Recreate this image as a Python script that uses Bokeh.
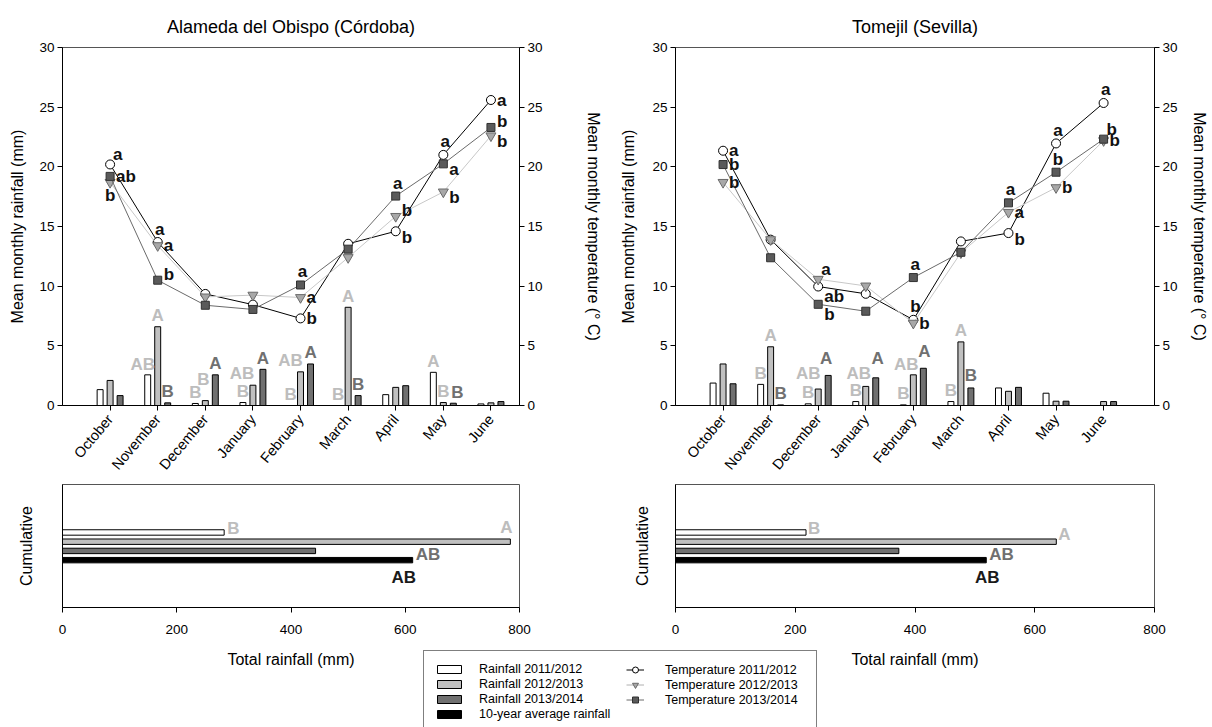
from bokeh.plotting import figure
from bokeh.models import (Range1d, LinearAxis, FixedTicker, ColumnDataSource, Legend, LegendItem,
                          GridBox, Spacer, Column, Row)
from bokeh.core.properties import value
from bokeh.embed import file_html
from bokeh.resources import INLINE

FONT = "Liberation Sans"

# ---------------- data ----------------
months = ["October", "November", "December", "January", "February", "March", "April", "May", "June"]
seasons = ["2011/2012", "2012/2013", "2013/2014"]

# Alameda del Obispo (Córdoba)
cor_rain_1112 = [1.33, 2.57, 0.17, 0.25, 0.0, 0.0, 0.91, 2.78, 0.13]
cor_rain_1213 = [2.10, 6.60, 0.41, 1.70, 2.82, 8.23, 1.52, 0.25, 0.22]
cor_rain_1314 = [0.83, 0.22, 2.57, 3.03, 3.48, 0.83, 1.66, 0.19, 0.33]
cor_temp_1112 = [20.2, 13.7, 9.35, 8.45, 7.3, 13.55, 14.6, 21.0, 25.6]
cor_temp_1213 = [18.7, 13.4, 9.1, 9.25, 9.05, 12.4, 15.85, 17.9, 22.6]
cor_temp_1314 = [19.2, 10.5, 8.4, 8.05, 10.1, 13.1, 17.55, 20.25, 23.3]
cor_total = [283, 784, 443, 613]

# Tomejil (Sevilla)
sev_rain_1112 = [1.88, 1.77, 0.14, 0.33, 0.05, 0.33, 1.47, 1.03, 0.0]
sev_rain_1213 = [3.48, 4.92, 1.38, 1.60, 2.57, 5.33, 1.19, 0.36, 0.33]
sev_rain_1314 = [1.82, 0.05, 2.52, 2.32, 3.12, 1.47, 1.52, 0.36, 0.33]
sev_temp_1112 = [21.35, 13.9, 9.97, 9.36, 7.18, 13.75, 14.45, 21.96, 25.35]
sev_temp_1213 = [18.7, 13.9, 10.58, 10.02, 6.9, 12.8, 16.19, 18.26, 22.2]
sev_temp_1314 = [20.19, 12.38, 8.48, 7.9, 10.72, 12.84, 16.98, 19.55, 22.32]
sev_total = [218, 636, 373, 519]

# significance letters
cor_rain_let_1112 = ["", "AB", "B", "B", "B", "B", "", "A", ""]
cor_rain_let_1213 = ["", "A", "B", "AB", "AB", "A", "", "B", ""]
cor_rain_let_1314 = ["", "B", "A", "A", "A", "B", "", "B", ""]
sev_rain_let_1112 = ["", "B", "B", "B", "B", "B", "", "", ""]
sev_rain_let_1213 = ["", "A", "AB", "AB", "AB", "A", "", "", ""]
sev_rain_let_1314 = ["", "B", "A", "A", "A", "B", "", "", ""]

cor_temp_let_1112 = ["a", "a", "", "", "b", "", "b", "a", "a"]
cor_temp_let_1213 = ["b", "a", "", "", "a", "", "b", "b", "b"]
cor_temp_let_1314 = ["ab", "b", "", "", "a", "", "a", "a", "b"]
sev_temp_let_1112 = ["a", "", "ab", "", "b", "", "b", "a", "a"]
sev_temp_let_1213 = ["b", "", "a", "", "b", "", "a", "b", "b"]
sev_temp_let_1314 = ["b", "", "b", "", "a", "", "a", "b", "b"]

cor_total_let = ["B", "A", "AB", "AB"]
sev_total_let = ["B", "A", "AB", "AB"]

rain_labels = ["Rainfall " + s for s in seasons] + ["10-year average rainfall"]
temp_labels = ["Temperature " + s for s in seasons]

# ---------------- layout / style (not data) ----------------
cor_temp_pos_1112 = ["ar", "a", "", "", "r", "", "rd", "a", "r"]
cor_temp_pos_1213 = ["b", "r", "", "", "r", "", "ru", "rd", "rd"]
cor_temp_pos_1314 = ["r", "ru", "", "", "a", "", "a", "rd", "ru"]
sev_temp_pos_1112 = ["r", "", "br", "", "a", "", "rd", "a", "a"]
sev_temp_pos_1213 = ["r", "", "ar", "", "r", "", "r", "r", "r"]
sev_temp_pos_1314 = ["r", "", "br", "", "a", "", "a", "a", "ar"]
POS = {"a": ("center", 2, -13), "b": ("center", 0, 13), "r": ("left", 6, 0),
       "ru": ("left", 6, -6), "rd": ("left", 6, 6), "ar": ("left", 3, -10), "br": ("left", 6, 10)}

cor_rain_nudge = {(0, 1): (-5, -10), (1, 2): (-2, -21), (1, 3): (-11, -12), (1, 4): (-10, -11), (2, 7): (4, -11)}
sev_rain_nudge = {(1, 2): (-10, -16), (1, 3): (-7, -13), (1, 4): (-7, -10), (2, 2): (-2, -17),
                  (2, 3): (2, -19), (2, 4): (1, -17), (2, 5): (0, -12)}

# bottom labels: (anchor bar, align, dx, dy)
cor_total_lab_pos = [(0, "left", 3, -4), (1, "center", -4, -14), (3, "left", 3, -6), (3, "center", -9, 17)]
sev_total_lab_pos = [(0, "left", 2, -4), (1, "left", 2, -7), (3, "left", 3, -6), (3, "center", 1, 17)]

BAR_FILL = ["#ffffff", "#c0c0c0", "#707070"]
TOTAL_FILL = ["#ffffff", "#c0c0c0", "#707070", "#000000"]
LET_COL = ["#bdbdbd", "#bdbdbd", "#707070"]
TOTAL_LET_COL = ["#bdbdbd", "#bdbdbd", "#707070", "#1a1a1a"]
TLINE = ["#000000", "#c8c8c8", "#6a6a6a"]
TMARK = [("circle", "#ffffff", "#000000", 9), ("inverted_triangle", "#a8a8a8", "#6a6a6a", 10),
         ("square", "#5a5a5a", "#303030", 8)]
BAR_OFF = [-0.21, 0.0, 0.21]
BAR_W = 0.125


def style_axis(ax, tick_font="13.5px"):
    ax.axis_line_color = "black"
    ax.major_tick_line_color = "black"
    ax.minor_tick_line_color = None
    ax.major_tick_in = 0
    ax.major_tick_out = 5
    ax.major_label_text_font = FONT
    ax.major_label_text_font_size = tick_font
    ax.major_label_text_color = "black"
    ax.axis_label_text_font = FONT
    ax.axis_label_text_font_size = "16px"
    ax.axis_label_text_font_style = "normal"
    ax.axis_label_text_color = "black"


def make_top(title, rains, temps, rain_lets, rain_nudge, temp_lets, temp_pos, x_end,
             width, mbl, mbr, lstand, rstand):
    p = figure(width=width, height=480, x_range=Range1d(-1.0, x_end), y_range=Range1d(0, 30),
               output_backend="svg", toolbar_location=None, title=title,
               min_border_left=mbl, min_border_right=mbr, min_border_top=47, min_border_bottom=71)
    p.extra_y_ranges = {"temp": Range1d(0, 30)}
    p.grid.visible = False
    p.outline_line_color = "#555555"
    p.title.align = "center"
    p.title.text_font = FONT
    p.title.text_font_size = "18px"
    p.title.text_font_style = "normal"
    p.title.text_color = "black"
    p.title.standoff = 22

    xa = p.xaxis[0]
    style_axis(xa)
    xa.ticker = FixedTicker(ticks=list(range(len(months))))
    xa.major_label_overrides = {i: m for i, m in enumerate(months)}
    xa.major_label_orientation = 0.87
    xa.major_label_text_font_size = "14.5px"
    xa.major_label_standoff = 6

    ya = p.yaxis[0]
    style_axis(ya)
    ya.ticker = FixedTicker(ticks=[0, 5, 10, 15, 20, 25, 30])
    ya.axis_label = "Mean monthly rainfall (mm)"
    ya.major_label_standoff = 3
    ya.axis_label_standoff = lstand

    ra = LinearAxis(y_range_name="temp", ticker=FixedTicker(ticks=[0, 5, 10, 15, 20, 25, 30]),
                    axis_label="Mean monthly temperature (° C)")
    style_axis(ra)
    ra.major_label_standoff = 3
    ra.axis_label_standoff = rstand
    p.add_layout(ra, "right")

    idx = list(range(len(months)))
    for s, vals in enumerate(rains):
        src = ColumnDataSource(dict(x=[i + BAR_OFF[s] for i in idx], top=vals))
        p.vbar(x="x", top="top", bottom=0, width=BAR_W, source=src,
               fill_color=BAR_FILL[s], line_color="black", line_width=1)
    lx, ly, lt, lxo, lyo, lc = [], [], [], [], [], []
    for s, lets in enumerate(rain_lets):
        for i, t in enumerate(lets):
            if not t:
                continue
            dx, dy = rain_nudge.get((s, i), (0, -11))
            lx.append(i + BAR_OFF[s]); ly.append(rains[s][i]); lt.append(t)
            lxo.append(dx); lyo.append(dy); lc.append(LET_COL[s])
    p.text(x="x", y="y", text="t", x_offset="xo", y_offset="yo", text_color="c",
           source=ColumnDataSource(dict(x=lx, y=ly, t=lt, xo=lxo, yo=lyo, c=lc)),
           text_align="center", text_baseline="middle", text_font=value(FONT),
           text_font_size="17px", text_font_style="bold")

    for s, vals in enumerate(temps):
        p.line(idx, vals, y_range_name="temp", line_color=TLINE[s], line_width=1)
        mk, fc, lc_, sz = TMARK[s]
        p.scatter(idx, vals, y_range_name="temp", marker=mk, size=sz,
                  fill_color=fc, line_color=lc_, line_width=1)
    groups = {}
    for s, lets in enumerate(temp_lets):
        for i, t in enumerate(lets):
            if not t:
                continue
            al, dx, dy = POS[temp_pos[s][i]]
            g = groups.setdefault(al, dict(x=[], y=[], t=[], xo=[], yo=[]))
            g["x"].append(i); g["y"].append(temps[s][i]); g["t"].append(t)
            g["xo"].append(dx); g["yo"].append(dy)
    for al, g in groups.items():
        p.text(x="x", y="y", text="t", x_offset="xo", y_offset="yo", y_range_name="temp",
               source=ColumnDataSource(g), text_align=al, text_baseline="middle",
               text_font=value(FONT), text_font_size="17px", text_font_style="bold",
               text_color="#111111")
    return p


def make_bottom(totals, lets, lab_pos, width, mbl, mbr, ystand):
    p = figure(width=width, height=247, x_range=Range1d(0, 800), y_range=Range1d(0, 1),
               output_backend="svg", toolbar_location=None,
               min_border_left=mbl, min_border_right=mbr, min_border_top=4, min_border_bottom=120)
    p.grid.visible = False
    p.outline_line_color = "#555555"
    bar_y = [0.61 - 0.075 * i for i in range(len(totals))]
    p.hbar(y="y", right="r", left=0, height=0.044,
           source=ColumnDataSource(dict(y=bar_y, r=totals, c=TOTAL_FILL)),
           fill_color="c", line_color="black", line_width=1)
    groups = {}
    for k, t in enumerate(lets):
        a, al, dx, dy = lab_pos[k]
        g = groups.setdefault(al, dict(x=[], y=[], t=[], xo=[], yo=[], c=[]))
        g["x"].append(totals[a]); g["y"].append(bar_y[a]); g["t"].append(t)
        g["xo"].append(dx); g["yo"].append(dy); g["c"].append(TOTAL_LET_COL[k])
    for al, g in groups.items():
        p.text(x="x", y="y", text="t", x_offset="xo", y_offset="yo", text_color="c",
               source=ColumnDataSource(g), text_align=al, text_baseline="middle",
               text_font=value(FONT), text_font_size="17px", text_font_style="bold")

    xa = p.xaxis[0]
    style_axis(xa)
    xa.ticker = FixedTicker(ticks=[0, 200, 400, 600, 800])
    xa.axis_label = "Total rainfall (mm)"
    xa.major_label_standoff = 12
    xa.axis_label_standoff = 14

    ya = p.yaxis[0]
    style_axis(ya)
    ya.ticker = FixedTicker(ticks=[])
    ya.major_tick_out = 0
    ya.major_label_standoff = 0
    ya.axis_label = "Cumulative"
    ya.axis_label_standoff = ystand
    return p


def make_legend():
    # legend-only panel; the swatch renderers sit outside the visible range
    p = figure(width=395, height=77, x_range=Range1d(0, 1), y_range=Range1d(0, 1),
               output_backend="svg", toolbar_location=None, min_border=0,
               x_axis_location=None, y_axis_location=None)
    p.outline_line_color = None
    p.grid.visible = False
    p.background_fill_alpha = 0
    p.border_fill_alpha = 0
    rain_r = [p.hbar(y=[-5], right=[1], left=0, height=0.5, fill_color=c, line_color="black",
                     line_width=1) for c in TOTAL_FILL]
    temp_r = []
    for s in range(3):
        ln = p.line([-5, -4], [-5, -5], line_color=TLINE[s] if s != 1 else "#b0b0b0", line_width=1)
        mk, fc, lc_, sz = TMARK[s]
        sc = p.scatter([-5], [-5], marker=mk, size=sz, fill_color=fc, line_color=lc_)
        temp_r.append([ln, sc])
    leg1 = Legend(items=[LegendItem(label=l, renderers=[r]) for l, r in zip(rain_labels, rain_r)],
                  location=(1, -5), padding=10, spacing=0, margin=0,
                  glyph_width=30, glyph_height=10, label_standoff=15,
                  label_width=327, label_height=15, border_line_color="black", border_line_width=1,
                  background_fill_color="white", background_fill_alpha=1.0,
                  label_text_font=FONT, label_text_font_size="12.5px", label_text_color="black",
                  label_text_baseline="middle")
    leg2 = Legend(items=[LegendItem(label=l, renderers=r) for l, r in zip(temp_labels, temp_r)],
                  location=(194, 10), padding=10, spacing=0, margin=0,
                  glyph_width=18, glyph_height=15, label_standoff=21,
                  label_height=15, border_line_alpha=0, background_fill_alpha=0,
                  label_text_font=FONT, label_text_font_size="12.5px", label_text_color="black",
                  label_text_baseline="middle")
    p.add_layout(leg1, "center")
    p.add_layout(leg2, "center")
    return p


top_l = make_top("Alameda del Obispo (Córdoba)",
                 [cor_rain_1112, cor_rain_1213, cor_rain_1314],
                 [cor_temp_1112, cor_temp_1213, cor_temp_1314],
                 [cor_rain_let_1112, cor_rain_let_1213, cor_rain_let_1314], cor_rain_nudge,
                 [cor_temp_let_1112, cor_temp_let_1213, cor_temp_let_1314],
                 [cor_temp_pos_1112, cor_temp_pos_1213, cor_temp_pos_1314],
                 8.6, 614, 62, 95, 10, 39)
top_r = make_top("Tomejil (Sevilla)",
                 [sev_rain_1112, sev_rain_1213, sev_rain_1314],
                 [sev_temp_1112, sev_temp_1213, sev_temp_1314],
                 [sev_rain_let_1112, sev_rain_let_1213, sev_rain_let_1314], sev_rain_nudge,
                 [sev_temp_let_1112, sev_temp_let_1213, sev_temp_let_1314],
                 [sev_temp_pos_1112, sev_temp_pos_1213, sev_temp_pos_1314],
                 9.07, 598, 60, 58, 12, 10)
bot_l = make_bottom(cor_total, cor_total_let, cor_total_lab_pos, 614, 62, 71, 28)
bot_r = make_bottom(sev_total, sev_total_let, sev_total_lab_pos, 598, 61, 57, 25)
leg = make_legend()

# legend box placed over the blank space between the two lower panels
leg_holder = Column(children=[Spacer(width=817, height=170),
                              Row(children=[Spacer(width=422, height=77), leg])])

layout = GridBox(children=[(top_l, 0, 0), (top_r, 0, 1), (bot_l, 1, 0), (bot_r, 1, 1),
                           (leg_holder, 1, 0, 1, 2)], spacing=0)
open("out.html", "w").write(file_html(layout, INLINE))
